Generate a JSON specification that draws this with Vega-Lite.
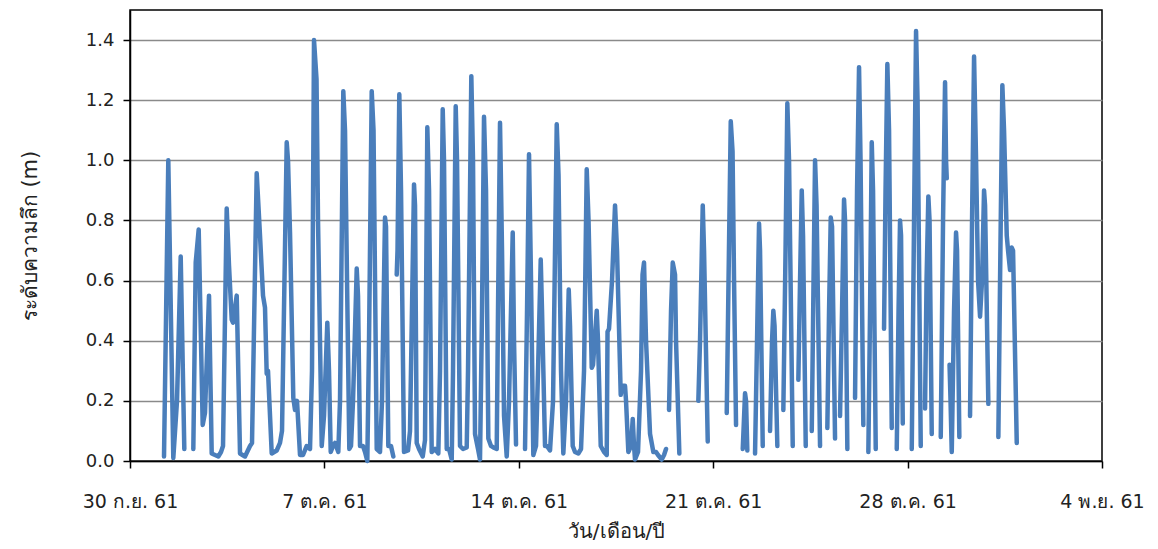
{
  "$schema": "https://vega.github.io/schema/vega-lite/v6.json",
  "width": 972,
  "height": 451,
  "autosize": "none",
  "padding": {"left": 130, "top": 10, "right": 56, "bottom": 88},
  "background": "white",
  "config": {"view": {"stroke": "black", "strokeWidth": 1.5}, "font": "DejaVu Sans"},
  "data": {"values": [
    {"seg":1,"t":"2018-10-01T05:23","depth":0.015},
    {"seg":1,"t":"2018-10-01T09:06","depth":1.0},
    {"seg":1,"t":"2018-10-01T13:25","depth":0.01},
    {"seg":1,"t":"2018-10-01T16:37","depth":0.2},
    {"seg":1,"t":"2018-10-01T19:49","depth":0.68},
    {"seg":1,"t":"2018-10-01T22:56","depth":0.04},
    {"seg":2,"t":"2018-10-02T06:43","depth":0.04},
    {"seg":2,"t":"2018-10-02T08:47","depth":0.66},
    {"seg":2,"t":"2018-10-02T11:22","depth":0.77},
    {"seg":2,"t":"2018-10-02T14:50","depth":0.12},
    {"seg":2,"t":"2018-10-02T16:49","depth":0.16},
    {"seg":2,"t":"2018-10-02T20:17","depth":0.55},
    {"seg":2,"t":"2018-10-02T22:37","depth":0.025},
    {"seg":2,"t":"2018-10-03T01:28","depth":0.02},
    {"seg":2,"t":"2018-10-03T04:19","depth":0.015},
    {"seg":2,"t":"2018-10-03T06:39","depth":0.03},
    {"seg":2,"t":"2018-10-03T08:23","depth":0.05},
    {"seg":2,"t":"2018-10-03T11:34","depth":0.84},
    {"seg":2,"t":"2018-10-03T13:34","depth":0.65},
    {"seg":2,"t":"2018-10-03T15:54","depth":0.47},
    {"seg":2,"t":"2018-10-03T17:01","depth":0.46},
    {"seg":2,"t":"2018-10-03T20:13","depth":0.55},
    {"seg":2,"t":"2018-10-03T23:04","depth":0.025},
    {"seg":2,"t":"2018-10-04T03:23","depth":0.015},
    {"seg":2,"t":"2018-10-04T07:43","depth":0.05},
    {"seg":2,"t":"2018-10-04T09:26","depth":0.06},
    {"seg":2,"t":"2018-10-04T13:30","depth":0.957},
    {"seg":2,"t":"2018-10-04T16:21","depth":0.75},
    {"seg":2,"t":"2018-10-04T18:57","depth":0.55},
    {"seg":2,"t":"2018-10-04T20:40","depth":0.51},
    {"seg":2,"t":"2018-10-04T22:08","depth":0.29},
    {"seg":2,"t":"2018-10-04T23:16","depth":0.3},
    {"seg":2,"t":"2018-10-05T02:28","depth":0.025},
    {"seg":2,"t":"2018-10-05T06:47","depth":0.035},
    {"seg":2,"t":"2018-10-05T09:38","depth":0.06},
    {"seg":2,"t":"2018-10-05T11:22","depth":0.1},
    {"seg":2,"t":"2018-10-05T15:26","depth":1.06},
    {"seg":2,"t":"2018-10-05T16:33","depth":1.0},
    {"seg":2,"t":"2018-10-05T18:17","depth":0.76},
    {"seg":2,"t":"2018-10-05T21:08","depth":0.21},
    {"seg":2,"t":"2018-10-05T22:36","depth":0.17},
    {"seg":2,"t":"2018-10-06T00:20","depth":0.2},
    {"seg":2,"t":"2018-10-06T02:55","depth":0.02},
    {"seg":2,"t":"2018-10-06T05:31","depth":0.02},
    {"seg":2,"t":"2018-10-06T08:43","depth":0.05},
    {"seg":2,"t":"2018-10-06T11:34","depth":0.04},
    {"seg":2,"t":"2018-10-06T13:17","depth":0.3},
    {"seg":2,"t":"2018-10-06T15:01","depth":1.40},
    {"seg":2,"t":"2018-10-06T17:11","depth":1.27},
    {"seg":2,"t":"2018-10-06T18:29","depth":0.8},
    {"seg":2,"t":"2018-10-06T21:41","depth":0.05},
    {"seg":2,"t":"2018-10-06T23:40","depth":0.15},
    {"seg":2,"t":"2018-10-07T02:31","depth":0.46},
    {"seg":2,"t":"2018-10-07T03:59","depth":0.3},
    {"seg":2,"t":"2018-10-07T05:28","depth":0.03},
    {"seg":2,"t":"2018-10-07T07:26","depth":0.05},
    {"seg":2,"t":"2018-10-07T09:10","depth":0.06},
    {"seg":2,"t":"2018-10-07T12:01","depth":0.03},
    {"seg":2,"t":"2018-10-07T13:29","depth":0.2},
    {"seg":2,"t":"2018-10-07T16:20","depth":1.23},
    {"seg":2,"t":"2018-10-07T17:49","depth":1.1},
    {"seg":2,"t":"2018-10-07T21:32","depth":0.04},
    {"seg":2,"t":"2018-10-07T23:00","depth":0.05},
    {"seg":2,"t":"2018-10-08T00:44","depth":0.2},
    {"seg":2,"t":"2018-10-08T03:56","depth":0.64},
    {"seg":2,"t":"2018-10-08T05:03","depth":0.55},
    {"seg":2,"t":"2018-10-08T06:47","depth":0.05},
    {"seg":2,"t":"2018-10-08T09:22","depth":0.05},
    {"seg":2,"t":"2018-10-08T11:06","depth":0.03},
    {"seg":2,"t":"2018-10-08T13:05","depth":0.0},
    {"seg":2,"t":"2018-10-08T14:34","depth":0.4},
    {"seg":2,"t":"2018-10-08T16:53","depth":1.23},
    {"seg":2,"t":"2018-10-08T18:27","depth":1.1},
    {"seg":2,"t":"2018-10-08T21:13","depth":0.04},
    {"seg":2,"t":"2018-10-09T00:04","depth":0.03},
    {"seg":2,"t":"2018-10-09T01:47","depth":0.2},
    {"seg":2,"t":"2018-10-09T04:23","depth":0.81},
    {"seg":2,"t":"2018-10-09T05:15","depth":0.78},
    {"seg":2,"t":"2018-10-09T07:14","depth":0.05},
    {"seg":2,"t":"2018-10-09T09:34","depth":0.05},
    {"seg":2,"t":"2018-10-09T11:34","depth":0.015},
    {"seg":3,"t":"2018-10-09T14:30","depth":0.62},
    {"seg":3,"t":"2018-10-09T15:11","depth":0.7},
    {"seg":3,"t":"2018-10-09T16:44","depth":1.22},
    {"seg":3,"t":"2018-10-09T18:13","depth":0.9},
    {"seg":3,"t":"2018-10-09T20:48","depth":0.03},
    {"seg":3,"t":"2018-10-10T00:16","depth":0.035},
    {"seg":3,"t":"2018-10-10T01:59","depth":0.1},
    {"seg":3,"t":"2018-10-10T05:27","depth":0.92},
    {"seg":3,"t":"2018-10-10T06:19","depth":0.85},
    {"seg":3,"t":"2018-10-10T07:47","depth":0.06},
    {"seg":3,"t":"2018-10-10T09:46","depth":0.04},
    {"seg":3,"t":"2018-10-10T12:58","depth":0.015},
    {"seg":3,"t":"2018-10-10T14:57","depth":0.07},
    {"seg":3,"t":"2018-10-10T16:56","depth":1.11},
    {"seg":3,"t":"2018-10-10T18:25","depth":0.9},
    {"seg":3,"t":"2018-10-10T20:44","depth":0.03},
    {"seg":3,"t":"2018-10-10T23:36","depth":0.04},
    {"seg":3,"t":"2018-10-11T02:27","depth":0.025},
    {"seg":3,"t":"2018-10-11T03:55","depth":0.3},
    {"seg":3,"t":"2018-10-11T06:15","depth":1.17},
    {"seg":3,"t":"2018-10-11T07:22","depth":1.0},
    {"seg":3,"t":"2018-10-11T09:43","depth":0.04},
    {"seg":3,"t":"2018-10-11T11:42","depth":0.04},
    {"seg":3,"t":"2018-10-11T14:02","depth":0.005},
    {"seg":3,"t":"2018-10-11T15:09","depth":0.3},
    {"seg":3,"t":"2018-10-11T17:29","depth":1.18},
    {"seg":3,"t":"2018-10-11T18:37","depth":1.0},
    {"seg":3,"t":"2018-10-11T21:12","depth":0.05},
    {"seg":3,"t":"2018-10-11T23:48","depth":0.04},
    {"seg":3,"t":"2018-10-12T02:59","depth":0.045},
    {"seg":3,"t":"2018-10-12T04:07","depth":0.3},
    {"seg":3,"t":"2018-10-12T06:58","depth":1.28},
    {"seg":3,"t":"2018-10-12T08:26","depth":1.0},
    {"seg":3,"t":"2018-10-12T10:10","depth":0.09},
    {"seg":3,"t":"2018-10-12T12:46","depth":0.04},
    {"seg":3,"t":"2018-10-12T14:29","depth":0.005},
    {"seg":3,"t":"2018-10-12T16:13","depth":0.5},
    {"seg":3,"t":"2018-10-12T17:56","depth":1.145},
    {"seg":3,"t":"2018-10-12T19:40","depth":0.9},
    {"seg":3,"t":"2018-10-12T21:40","depth":0.075},
    {"seg":3,"t":"2018-10-12T23:59","depth":0.05},
    {"seg":3,"t":"2018-10-13T01:59","depth":0.045},
    {"seg":3,"t":"2018-10-13T04:55","depth":0.04},
    {"seg":3,"t":"2018-10-13T06:02","depth":0.5},
    {"seg":3,"t":"2018-10-13T07:46","depth":1.125},
    {"seg":3,"t":"2018-10-13T09:30","depth":0.7},
    {"seg":3,"t":"2018-10-13T11:14","depth":0.15},
    {"seg":3,"t":"2018-10-13T13:34","depth":0.015},
    {"seg":3,"t":"2018-10-13T15:33","depth":0.2},
    {"seg":3,"t":"2018-10-13T18:45","depth":0.76},
    {"seg":3,"t":"2018-10-13T19:52","depth":0.4},
    {"seg":3,"t":"2018-10-13T21:36","depth":0.055},
    {"seg":4,"t":"2018-10-14T05:23","depth":0.04},
    {"seg":4,"t":"2018-10-14T07:07","depth":0.5},
    {"seg":4,"t":"2018-10-14T08:50","depth":1.02},
    {"seg":4,"t":"2018-10-14T10:34","depth":0.6},
    {"seg":4,"t":"2018-10-14T12:33","depth":0.02},
    {"seg":4,"t":"2018-10-14T14:53","depth":0.05},
    {"seg":4,"t":"2018-10-14T16:37","depth":0.3},
    {"seg":4,"t":"2018-10-14T18:57","depth":0.67},
    {"seg":4,"t":"2018-10-14T20:04","depth":0.5},
    {"seg":4,"t":"2018-10-14T22:40","depth":0.05},
    {"seg":4,"t":"2018-10-15T00:23","depth":0.05},
    {"seg":4,"t":"2018-10-15T02:59","depth":0.035},
    {"seg":4,"t":"2018-10-15T05:35","depth":0.2},
    {"seg":4,"t":"2018-10-15T08:47","depth":1.12},
    {"seg":4,"t":"2018-10-15T10:20","depth":0.95},
    {"seg":4,"t":"2018-10-15T12:29","depth":0.3},
    {"seg":4,"t":"2018-10-15T14:29","depth":0.025},
    {"seg":4,"t":"2018-10-15T16:49","depth":0.2},
    {"seg":4,"t":"2018-10-15T19:09","depth":0.57},
    {"seg":4,"t":"2018-10-15T20:16","depth":0.45},
    {"seg":4,"t":"2018-10-15T22:36","depth":0.05},
    {"seg":4,"t":"2018-10-16T00:35","depth":0.03},
    {"seg":4,"t":"2018-10-16T03:26","depth":0.025},
    {"seg":4,"t":"2018-10-16T05:47","depth":0.04},
    {"seg":4,"t":"2018-10-16T08:22","depth":0.3},
    {"seg":4,"t":"2018-10-16T10:42","depth":0.97},
    {"seg":4,"t":"2018-10-16T12:16","depth":0.8},
    {"seg":4,"t":"2018-10-16T15:02","depth":0.31},
    {"seg":4,"t":"2018-10-16T16:09","depth":0.32},
    {"seg":4,"t":"2018-10-16T19:21","depth":0.5},
    {"seg":4,"t":"2018-10-16T20:28","depth":0.4},
    {"seg":4,"t":"2018-10-16T22:48","depth":0.05},
    {"seg":4,"t":"2018-10-17T01:39","depth":0.03},
    {"seg":4,"t":"2018-10-17T03:59","depth":0.02},
    {"seg":4,"t":"2018-10-17T04:41","depth":0.43},
    {"seg":4,"t":"2018-10-17T05:59","depth":0.44},
    {"seg":4,"t":"2018-10-17T08:34","depth":0.6},
    {"seg":4,"t":"2018-10-17T11:10","depth":0.85},
    {"seg":4,"t":"2018-10-17T12:53","depth":0.7},
    {"seg":4,"t":"2018-10-17T16:05","depth":0.22},
    {"seg":4,"t":"2018-10-17T17:13","depth":0.25},
    {"seg":4,"t":"2018-10-17T19:48","depth":0.25},
    {"seg":4,"t":"2018-10-17T20:40","depth":0.2},
    {"seg":4,"t":"2018-10-17T22:40","depth":0.03},
    {"seg":4,"t":"2018-10-18T00:59","depth":0.05},
    {"seg":4,"t":"2018-10-18T02:28","depth":0.14},
    {"seg":4,"t":"2018-10-18T03:35","depth":0.05},
    {"seg":4,"t":"2018-10-18T04:27","depth":0.005},
    {"seg":4,"t":"2018-10-18T07:02","depth":0.03},
    {"seg":4,"t":"2018-10-18T09:38","depth":0.3},
    {"seg":4,"t":"2018-10-18T10:56","depth":0.62},
    {"seg":4,"t":"2018-10-18T12:13","depth":0.66},
    {"seg":4,"t":"2018-10-18T13:57","depth":0.4},
    {"seg":4,"t":"2018-10-18T17:25","depth":0.09},
    {"seg":4,"t":"2018-10-18T20:16","depth":0.03},
    {"seg":4,"t":"2018-10-18T22:36","depth":0.03},
    {"seg":4,"t":"2018-10-19T00:19","depth":0.02},
    {"seg":4,"t":"2018-10-19T03:31","depth":0.005},
    {"seg":4,"t":"2018-10-19T05:31","depth":0.02},
    {"seg":4,"t":"2018-10-19T07:14","depth":0.04},
    {"seg":5,"t":"2018-10-19T09:50","depth":0.17},
    {"seg":5,"t":"2018-10-19T11:34","depth":0.5},
    {"seg":5,"t":"2018-10-19T13:02","depth":0.66},
    {"seg":5,"t":"2018-10-19T15:01","depth":0.62},
    {"seg":5,"t":"2018-10-19T15:53","depth":0.4},
    {"seg":5,"t":"2018-10-19T18:44","depth":0.025},
    {"seg":6,"t":"2018-10-20T11:10","depth":0.2},
    {"seg":6,"t":"2018-10-20T12:37","depth":0.4},
    {"seg":6,"t":"2018-10-20T14:58","depth":0.85},
    {"seg":6,"t":"2018-10-20T16:05","depth":0.7},
    {"seg":6,"t":"2018-10-20T19:17","depth":0.065},
    {"seg":7,"t":"2018-10-21T11:42","depth":0.16},
    {"seg":7,"t":"2018-10-21T13:15","depth":0.6},
    {"seg":7,"t":"2018-10-21T15:10","depth":1.13},
    {"seg":7,"t":"2018-10-21T16:43","depth":1.03},
    {"seg":7,"t":"2018-10-21T18:01","depth":0.6},
    {"seg":7,"t":"2018-10-21T19:44","depth":0.12},
    {"seg":8,"t":"2018-10-22T01:32","depth":0.04},
    {"seg":8,"t":"2018-10-22T03:31","depth":0.225},
    {"seg":8,"t":"2018-10-22T04:23","depth":0.2},
    {"seg":8,"t":"2018-10-22T05:30","depth":0.035},
    {"seg":9,"t":"2018-10-22T12:10","depth":0.025},
    {"seg":9,"t":"2018-10-22T13:53","depth":0.4},
    {"seg":9,"t":"2018-10-22T15:37","depth":0.79},
    {"seg":9,"t":"2018-10-22T16:29","depth":0.7},
    {"seg":9,"t":"2018-10-22T18:49","depth":0.05},
    {"seg":10,"t":"2018-10-23T01:07","depth":0.1},
    {"seg":10,"t":"2018-10-23T02:51","depth":0.4},
    {"seg":10,"t":"2018-10-23T03:58","depth":0.5},
    {"seg":10,"t":"2018-10-23T05:01","depth":0.45},
    {"seg":10,"t":"2018-10-23T07:26","depth":0.05},
    {"seg":11,"t":"2018-10-23T12:37","depth":0.17},
    {"seg":11,"t":"2018-10-23T14:31","depth":0.7},
    {"seg":11,"t":"2018-10-23T16:04","depth":1.19},
    {"seg":11,"t":"2018-10-23T17:32","depth":1.0},
    {"seg":11,"t":"2018-10-23T20:44","depth":0.05},
    {"seg":12,"t":"2018-10-24T01:35","depth":0.27},
    {"seg":12,"t":"2018-10-24T03:03","depth":0.6},
    {"seg":12,"t":"2018-10-24T04:31","depth":0.9},
    {"seg":12,"t":"2018-10-24T05:38","depth":0.75},
    {"seg":12,"t":"2018-10-24T07:59","depth":0.05},
    {"seg":13,"t":"2018-10-24T13:10","depth":0.1},
    {"seg":13,"t":"2018-10-24T14:43","depth":0.6},
    {"seg":13,"t":"2018-10-24T16:01","depth":1.0},
    {"seg":13,"t":"2018-10-24T17:19","depth":0.85},
    {"seg":13,"t":"2018-10-24T20:20","depth":0.05},
    {"seg":14,"t":"2018-10-25T02:38","depth":0.11},
    {"seg":14,"t":"2018-10-25T04:07","depth":0.5},
    {"seg":14,"t":"2018-10-25T05:35","depth":0.81},
    {"seg":14,"t":"2018-10-25T06:42","depth":0.78},
    {"seg":14,"t":"2018-10-25T09:18","depth":0.075},
    {"seg":15,"t":"2018-10-25T13:37","depth":0.15},
    {"seg":15,"t":"2018-10-25T15:21","depth":0.5},
    {"seg":15,"t":"2018-10-25T17:04","depth":0.87},
    {"seg":15,"t":"2018-10-25T17:56","depth":0.8},
    {"seg":15,"t":"2018-10-25T19:56","depth":0.04},
    {"seg":16,"t":"2018-10-26T02:35","depth":0.21},
    {"seg":16,"t":"2018-10-26T04:19","depth":0.9},
    {"seg":16,"t":"2018-10-26T06:02","depth":1.31},
    {"seg":16,"t":"2018-10-26T07:20","depth":1.0},
    {"seg":16,"t":"2018-10-26T09:45","depth":0.12},
    {"seg":17,"t":"2018-10-26T14:05","depth":0.03},
    {"seg":17,"t":"2018-10-26T15:33","depth":0.5},
    {"seg":17,"t":"2018-10-26T17:01","depth":1.06},
    {"seg":17,"t":"2018-10-26T18:08","depth":0.9},
    {"seg":17,"t":"2018-10-26T20:28","depth":0.04},
    {"seg":18,"t":"2018-10-27T03:38","depth":0.44},
    {"seg":18,"t":"2018-10-27T04:56","depth":0.9},
    {"seg":18,"t":"2018-10-27T06:30","depth":1.32},
    {"seg":18,"t":"2018-10-27T07:58","depth":1.1},
    {"seg":18,"t":"2018-10-27T10:18","depth":0.11},
    {"seg":19,"t":"2018-10-27T14:37","depth":0.04},
    {"seg":19,"t":"2018-10-27T16:11","depth":0.5},
    {"seg":19,"t":"2018-10-27T17:28","depth":0.8},
    {"seg":19,"t":"2018-10-27T18:20","depth":0.75},
    {"seg":19,"t":"2018-10-27T19:49","depth":0.125},
    {"seg":20,"t":"2018-10-28T03:35","depth":0.04},
    {"seg":20,"t":"2018-10-28T05:34","depth":0.8},
    {"seg":20,"t":"2018-10-28T07:18","depth":1.43},
    {"seg":20,"t":"2018-10-28T08:36","depth":1.2},
    {"seg":20,"t":"2018-10-28T11:22","depth":0.05},
    {"seg":21,"t":"2018-10-28T15:05","depth":0.175},
    {"seg":21,"t":"2018-10-28T16:23","depth":0.6},
    {"seg":21,"t":"2018-10-28T17:56","depth":0.88},
    {"seg":21,"t":"2018-10-28T18:58","depth":0.8},
    {"seg":21,"t":"2018-10-28T20:52","depth":0.09},
    {"seg":22,"t":"2018-10-29T04:39","depth":0.08},
    {"seg":22,"t":"2018-10-29T06:38","depth":0.8},
    {"seg":22,"t":"2018-10-29T08:22","depth":1.26},
    {"seg":22,"t":"2018-10-29T09:14","depth":1.0},
    {"seg":22,"t":"2018-10-29T09:50","depth":0.94},
    {"seg":23,"t":"2018-10-29T12:15","depth":0.32},
    {"seg":23,"t":"2018-10-29T13:07","depth":0.2},
    {"seg":23,"t":"2018-10-29T14:09","depth":0.03},
    {"seg":23,"t":"2018-10-29T16:08","depth":0.5},
    {"seg":23,"t":"2018-10-29T17:52","depth":0.76},
    {"seg":23,"t":"2018-10-29T18:44","depth":0.7},
    {"seg":23,"t":"2018-10-29T20:43","depth":0.08},
    {"seg":24,"t":"2018-10-30T05:58","depth":0.15},
    {"seg":24,"t":"2018-10-30T07:42","depth":0.8},
    {"seg":24,"t":"2018-10-30T09:26","depth":1.345},
    {"seg":24,"t":"2018-10-30T11:10","depth":1.0},
    {"seg":24,"t":"2018-10-30T12:53","depth":0.6},
    {"seg":24,"t":"2018-10-30T14:37","depth":0.48},
    {"seg":24,"t":"2018-10-30T16:20","depth":0.6},
    {"seg":24,"t":"2018-10-30T18:04","depth":0.9},
    {"seg":24,"t":"2018-10-30T18:56","depth":0.85},
    {"seg":24,"t":"2018-10-30T21:47","depth":0.19},
    {"seg":25,"t":"2018-10-31T06:26","depth":0.08},
    {"seg":25,"t":"2018-10-31T07:54","depth":0.6},
    {"seg":25,"t":"2018-10-31T09:53","depth":1.25},
    {"seg":25,"t":"2018-10-31T11:21","depth":1.1},
    {"seg":25,"t":"2018-10-31T13:41","depth":0.75},
    {"seg":25,"t":"2018-10-31T14:49","depth":0.7},
    {"seg":25,"t":"2018-10-31T16:32","depth":0.635},
    {"seg":25,"t":"2018-10-31T18:01","depth":0.71},
    {"seg":25,"t":"2018-10-31T19:08","depth":0.7},
    {"seg":25,"t":"2018-10-31T22:20","depth":0.06}
  ]},
  "mark": {"type": "line", "color": "#4a7ebb", "strokeWidth": 4.5, "strokeJoin": "round", "strokeCap": "round"},
  "encoding": {
    "x": {
      "field": "t", "type": "temporal",
      "scale": {"domain": [{"year": 2018, "month": 9, "date": 30}, {"year": 2018, "month": 11, "date": 4}]},
      "axis": {
        "values": [{"year": 2018, "month": 9, "date": 30}, {"year": 2018, "month": 10, "date": 7}, {"year": 2018, "month": 10, "date": 14}, {"year": 2018, "month": 10, "date": 21}, {"year": 2018, "month": 10, "date": 28}, {"year": 2018, "month": 11, "date": 4}],
        "labelExpr": "date(datum.value) + ' ' + (month(datum.value) == 8 ? 'ก.ย.' : month(datum.value) == 9 ? 'ต.ค.' : 'พ.ย.') + ' 61'",
        "title": "วัน/เดือน/ปี",
        "grid": false,
        "domainColor": "black", "domainWidth": 1.5,
        "tickColor": "black", "tickWidth": 1.5, "tickSize": 7,
        "labelFontSize": 19, "labelColor": "#222222", "labelPadding": 24, "labelOverlap": false, "labelFlush": false,
        "titleFontSize": 20, "titleFontWeight": "normal", "titleColor": "#222222", "titlePadding": 10
      }
    },
    "y": {
      "field": "depth", "type": "quantitative",
      "scale": {"domain": [0, 1.5], "nice": false},
      "axis": {
        "values": [0, 0.2, 0.4, 0.6, 0.8, 1.0, 1.2, 1.4],
        "format": ".1f",
        "title": "ระดับความลึก (m)",
        "grid": true, "gridColor": "#8a8a8a", "gridWidth": 1.5,
        "domainColor": "black", "domainWidth": 1.5,
        "tickColor": "black", "tickWidth": 1.5, "tickSize": 7,
        "labelFontSize": 18, "labelColor": "#222222", "labelPadding": 9,
        "titleFontSize": 21, "titleFontWeight": "normal", "titleColor": "#222222", "titlePadding": 45
      }
    },
    "detail": {"field": "seg", "type": "nominal"}
  }
}
